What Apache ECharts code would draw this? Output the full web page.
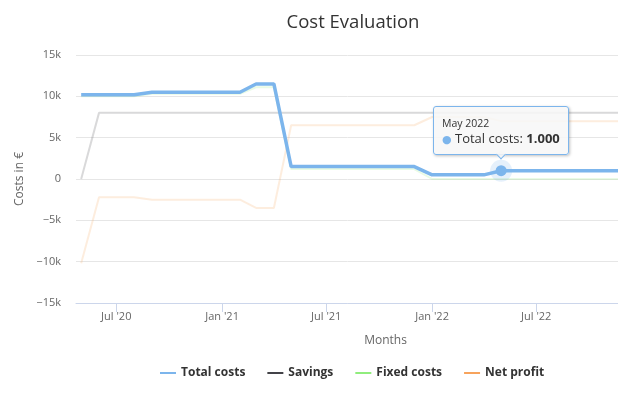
<!DOCTYPE html>
<html><head><meta charset="utf-8">
<script src="https://cdn.jsdelivr.net/npm/echarts@6/dist/echarts.min.js"></script>
<style>html,body{margin:0;padding:0;background:#fff;overflow:hidden}#c{width:618px;height:394px}</style>
</head><body><div id="c"></div>
<script>
// ---- data ----
const months = [
  '2020-05','2020-06','2020-07','2020-08','2020-09','2020-10','2020-11','2020-12',
  '2021-01','2021-02','2021-03','2021-04','2021-05','2021-06','2021-07','2021-08','2021-09','2021-10','2021-11','2021-12',
  '2022-01','2022-02','2022-03','2022-04','2022-05','2022-06','2022-07','2022-08','2022-09','2022-10','2022-11','2022-12',
  '2023-01','2023-02','2023-03','2023-04'
];
const totalCosts = [
  10200,10200,10200,10200,10500,10500,10500,10500,
  10500,10500,11500,11500,1500,1500,1500,1500,1500,1500,1500,1500,
  500,500,500,500,1000,1000,1000,1000,1000,1000,1000,1000,
  1000,1000,1000,1000
];
const savings = [
  0,8000,8000,8000,8000,8000,8000,8000,
  8000,8000,8000,8000,8000,8000,8000,8000,8000,8000,8000,8000,
  8000,8000,8000,8000,8000,8000,8000,8000,8000,8000,8000,8000,
  8000,8000,8000,8000
];
const fixedCosts = [
  10000,10000,10000,10000,10300,10300,10300,10300,
  10300,10300,11100,11100,1200,1200,1200,1200,1200,1200,1200,1200,
  0,0,0,0,0,0,0,0,0,0,0,0,
  0,0,0,0
];
const netProfit = [
  -10200,-2200,-2200,-2200,-2500,-2500,-2500,-2500,
  -2500,-2500,-3500,-3500,6500,6500,6500,6500,6500,6500,6500,6500,
  7500,7500,7500,7500,7000,7000,7000,7000,7000,7000,7000,7000,
  7000,7000,7000,7000
];
const seriesNames = ['Total costs','Savings','Fixed costs','Net profit'];
const xTickDates = ['2020-07-01','2021-01-01','2021-07-01','2022-01-01','2022-07-01','2023-01-01'];
const xRange = ['2020-04-22','2023-04-03'];
const yTicks = [-15000,-10000,-5000,0,5000,10000,15000];
const hoverIndex = 24; // May 2022
const monthNames = ['Jan','Feb','Mar','Apr','May','Jun','Jul','Aug','Sep','Oct','Nov','Dec'];

const FONT = '"Open Sans", "DejaVu Sans", sans-serif';
function ts(s){ const p = s.split('-').map(Number); return Date.UTC(p[0], p[1]-1, p[2]||1); }
function fmtK(v){ if (v === 0) return '0'; return (v < 0 ? '\u2212' : '') + Math.abs(v/1000) + 'k'; }
function fmtNum(v){ return String(Math.round(v)).replace(/\B(?=(\d{3})+(?!\d))/g, '.'); }

const chart = echarts.init(document.getElementById('c'), null, {renderer:'canvas'});

function pairs(arr){ return months.map((m,i)=>[ts(m), arr[i]]); }

const totalData = months.map((m,i)=> i === hoverIndex
  ? {value:[ts(m), totalCosts[i]], symbol:'circle', symbolSize:11}
  : {value:[ts(m), totalCosts[i]], symbol:'none'});

const dimLine = (color) => ({color: color, width: 2, opacity: 0.2});

const option = {
  animation: false,
  backgroundColor: '#fff',
  textStyle: {fontFamily: FONT},
  title: {
    text: 'Cost Evaluation', left: 348, top: 8, textAlign: 'center',
    textStyle: {fontSize: 18.5, fontWeight: 'normal', color: '#333333', fontFamily: FONT}
  },
  legend: {
    data: seriesNames, left: 155, top: 362, icon: 'rect', itemWidth: 16, itemHeight: 2, itemGap: 22,
    selectedMode: false,
    itemStyle: {opacity: 1},
    textStyle: {fontSize: 12, fontWeight: 'bold', color: '#333333', fontFamily: FONT}
  },
  grid: {left: 76, right: -77, top: 55, bottom: 91, containLabel: false, outerBoundsMode: 'none'},
  tooltip: {
    trigger: 'item', triggerOn: 'none', alwaysShowContent: true, position: 'top',
    backgroundColor: 'rgba(247,247,247,0.85)', borderColor: '#7cb5ec', borderWidth: 1, borderRadius: 3,
    padding: [8, 8], transitionDuration: 0,
    extraCssText: 'box-shadow:1px 1px 3px rgba(0,0,0,0.25);',
    textStyle: {fontFamily: FONT, fontSize: 12, color: '#333333'},
    formatter: function(p){
      const d = new Date(p.value[0]);
      const head = monthNames[d.getUTCMonth()] + ' ' + d.getUTCFullYear();
      return '<div style="font-size:10.5px;line-height:16px;color:#333">' + head + '</div>' +
        '<div style="font-size:13px;line-height:15px;color:#333;white-space:nowrap">' +
        '<span style="color:' + p.color + ';font-size:11px">\u25CF</span> ' + p.seriesName + ': <b>' + fmtNum(p.value[1]) + '</b></div>';
    }
  },
  xAxis: {
    type: 'value', min: ts(xRange[0]), max: ts(xRange[1]),
    name: 'Months', nameLocation: 'middle', nameGap: 32,
    nameTextStyle: {color: '#666666', fontSize: 12, fontFamily: FONT},
    axisLine: {show: true, onZero: false, lineStyle: {color: '#ccd6eb', width: 1}},
    axisTick: {show: true, length: 9, lineStyle: {color: '#ccd6eb'}, customValues: xTickDates.map(ts)},
    axisLabel: {
      color: '#666666', fontSize: 11, fontFamily: FONT, margin: 8, hideOverlap: false,
      customValues: xTickDates.map(ts),
      formatter: function(v){ const d = new Date(v); return monthNames[d.getUTCMonth()] + " '" + String(d.getUTCFullYear()).slice(2); }
    },
    splitLine: {show: false}
  },
  yAxis: {
    type: 'value', min: yTicks[0], max: yTicks[yTicks.length-1], interval: 5000,
    name: 'Costs in \u20AC', nameLocation: 'middle', nameRotate: 90, nameGap: 50,
    nameTextStyle: {color: '#666666', fontSize: 12, fontFamily: FONT},
    axisLine: {show: false}, axisTick: {show: false},
    axisLabel: {color: '#666666', fontSize: 11, fontFamily: FONT, margin: 15, formatter: fmtK},
    splitLine: {show: true, lineStyle: {color: '#e6e6e6', width: 1}}
  },
  series: [
    {name: seriesNames[1], type: 'line', data: pairs(savings), showSymbol: false, color: '#434348',
     lineStyle: dimLine('#434348'), itemStyle: {color: '#434348'}, z: 2, silent: true, tooltip: {show: false}},
    {name: seriesNames[2], type: 'line', data: pairs(fixedCosts), showSymbol: false, color: '#90ed7d',
     lineStyle: dimLine('#90ed7d'), itemStyle: {color: '#90ed7d'}, z: 2, silent: true, tooltip: {show: false}},
    {name: seriesNames[3], type: 'line', data: pairs(netProfit), showSymbol: false, color: '#f7a35c',
     lineStyle: dimLine('#f7a35c'), itemStyle: {color: '#f7a35c'}, z: 2, silent: true, tooltip: {show: false}},
    {name: 'halo', type: 'scatter', data: [[ts(months[hoverIndex]), totalCosts[hoverIndex]]], symbolSize: 22,
     itemStyle: {color: 'rgba(124,181,236,0.25)'}, silent: true, z: 3, tooltip: {show: false}},
    {name: seriesNames[0], type: 'line', data: totalData, showSymbol: true, color: '#7cb5ec',
     lineStyle: {color: '#7cb5ec', width: 3.5}, itemStyle: {color: '#7cb5ec'}, z: 5,
     emphasis: {disabled: true}}
  ]
};
chart.setOption(option);
chart.dispatchAction({type: 'showTip', seriesIndex: 4, dataIndex: hoverIndex});
</script>
</body></html>
